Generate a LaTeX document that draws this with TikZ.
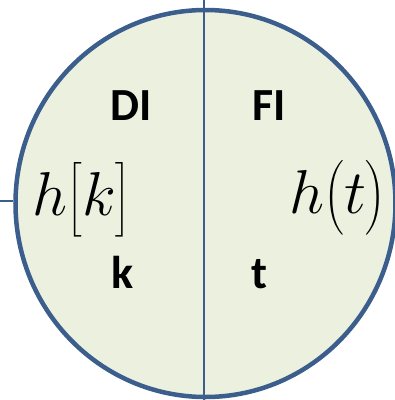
\RequirePackage{fix-cm}
\documentclass[tikz,border=0pt]{standalone}
\usepackage{amsmath}
\usepackage{fontspec}
\usepackage{tikz}
\usetikzlibrary{shapes.geometric}
\newfontfamily\labelfont{Carlito}
\definecolor{rim}{HTML}{3B5E8C}
\definecolor{disc}{HTML}{EBF0DF}
\definecolor{ink}{HTML}{000000}
\tikzset{
  diskbox/.style={ellipse,draw=rim,fill=disc,line width=4.5pt,
                  minimum width=380pt,minimum height=387pt,inner sep=0pt},
  axisline/.style={draw=rim,line width=2.2pt},
  leadline/.style={draw=rim,line width=2.5pt},
  domlabel/.style={anchor=base,inner sep=0pt,text=ink,
                   font=\labelfont\bfseries\fontsize{46}{50}\selectfont},
  signal/.style={anchor=base,inner sep=0pt,text=ink,
                 font=\fontsize{62}{70}\selectfont}
}

\begin{document}
\begin{tikzpicture}[x=1pt,y=-1pt]
  \useasboundingbox (0,0) rectangle (395,400);
  \node[diskbox] (disk) at (205.5,203.5) {};
  % axis through the disk
  \coordinate (axtop) at (204,0);
  \coordinate (axbot) at (204,400);
  \draw[axisline] (axtop) -- (axbot);
  \coordinate (lead) at (0,201);
  \draw[leadline] (lead) -- (lead -| disk.west);
  % domain labels
  \node[domlabel] (dlab) at (131.5,120) {DI};
  \node[domlabel] (flab) at (269,120) {FI};
  \node[domlabel] (klab) at (123,288) {k};
  \node[domlabel] (tlab) at (259.5,288) {t};
  % signals
  \node[signal] (hk) at (81.5,215) {$h\bigl[k\bigr]$};
  \node[signal] (ht) at (337.5,213) {$h\bigl(t\bigr)$};
\end{tikzpicture}
\end{document}
